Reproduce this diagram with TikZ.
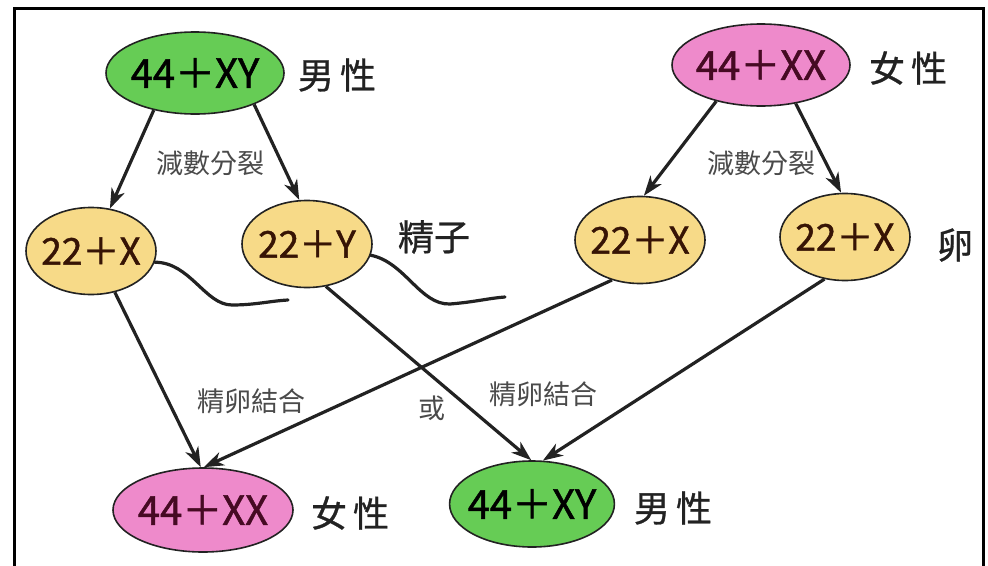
\documentclass[tikz,border=0pt]{standalone}
\usepackage{fontspec}
\setmainfont{Noto Sans CJK TC}
\newfontfamily\cellfont[FakeBold=1.3]{Noto Sans CJK TC}
\newfontfamily\tagfont[FakeBold=0.8]{Noto Sans CJK TC}
\usetikzlibrary{arrows.meta,shapes.geometric}
\definecolor{gfill}{HTML}{66CC55}
\definecolor{pfill}{HTML}{EE8ACB}
\definecolor{yfill}{HTML}{F7DA88}
\definecolor{edgec}{HTML}{222222}
\definecolor{lblc}{HTML}{4A4A4A}
\tikzset{
  cell/.style={ellipse, draw=edgec, line width=1.6pt, inner sep=-6pt, font=\cellfont\fontsize{40}{44}\selectfont},
  big/.style={cell, minimum width=178pt, minimum height=82pt},
  small/.style={cell, minimum width=130pt, minimum height=87pt, font=\cellfont\fontsize{37}{40}\selectfont},
  malec/.style={big, fill=gfill, text=black},
  femalec/.style={big, fill=pfill, text={rgb,255:red,70;green,10;blue,35}},
  gamete/.style={small, fill=yfill, text={rgb,255:red,55;green,20;blue,5}},
  tag/.style={text=edgec, font=\tagfont\fontsize{36}{40}\selectfont},
  note/.style={text=lblc, font=\fontsize{27}{30}\selectfont},
  conn/.style={line width=3.2pt, draw=edgec, -{Stealth[length=20pt,width=14pt,inset=6pt]}},
  tail/.style={line width=3.2pt, draw=edgec, line cap=round}
}
\begin{document}
\begin{tikzpicture}[x=1pt,y=-1pt]
\useasboundingbox (0,0) rectangle (988,565);
\fill[white] (0,0) rectangle (988,565);
% frame
\draw[line width=3pt, line cap=rect] (14,565) -- (14,8) -- (983,8) -- (983,565);

% parents
\node[malec] (g1) at (195,73) {44＋XY};
\node[tag] (g1t) at (337,75) {男\,性};
\node[femalec] (p1) at (761,65) {44＋XX};
\node[tag] (p1t) at (908,68) {女\,性};

% gametes
\node[gamete] (x1) at (91,251) {22＋X};
\node[gamete] (y1) at (307,244) {22＋Y};
\node[tag] (st) at (434,237) {精子};
\node[gamete] (x2) at (640,240) {22＋X};
\node[gamete] (x3) at (845,237) {22＋X};
\node[tag] (et) at (955,245) {卵};

% children
\node[femalec, minimum width=180pt, minimum height=84pt] (f2) at (203,510) {44＋XX};
\node[tag] (f2t) at (350,513) {女\,性};
\node[malec, minimum width=160pt, minimum height=86pt] (m2) at (532,504) {44＋XY};
\node[tag] (m2t) at (673,508) {男\,性};

% labels
\node[note] (n1) at (210,163) {減數分裂};
\node[note] (n2) at (761,163) {減數分裂};
\node[note] (n3) at (251,401) {精卵結合};
\node[note] (n4) at (432,408) {或};
\node[note] (n5) at (543,394) {精卵結合};

% meiosis arrows
\draw[conn] (g1.-138) -- (x1);
\draw[conn] (g1.-28) -- (y1.100);
\draw[conn] (p1.-141) -- (x2.85);
\draw[conn] (p1.-48) -- (x3.95);

% fertilisation arrows
\draw[conn] (x1.-60) -- (f2.93);
\draw[conn] (x2.-125) -- (f2.89);
\draw[conn] (y1.-66) -- (m2.91);
\draw[conn] (x3.-116) -- (m2.76);

% sperm tails
\coordinate (t1) at (288,300);
\coordinate (t2) at (505,297);
\draw[tail] (x1.-10) .. controls (190,262) and (205,305) .. (232,305) .. controls (255,305) and (270,301) .. (t1);
\draw[tail] (y1.-10) .. controls (405,262) and (420,305) .. (450,304) .. controls (475,302) and (490,298) .. (t2);
\end{tikzpicture}
\end{document}
